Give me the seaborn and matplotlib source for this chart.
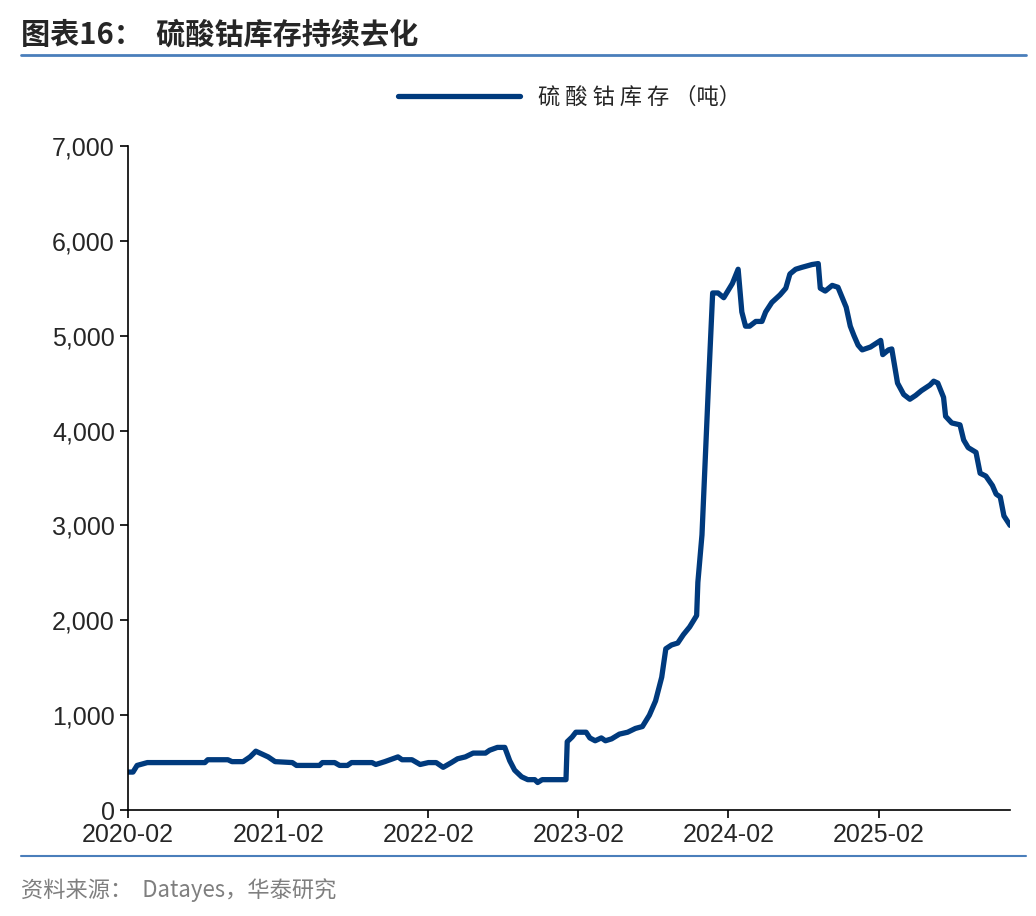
import matplotlib
matplotlib.use("Agg")
import matplotlib.pyplot as plt
import seaborn as sns
import pandas as pd

dates = ["2020-02-01","2020-02-13","2020-02-23","2020-03-19","2020-08-06","2020-08-13","2020-10-01","2020-10-11",
"2020-11-07","2020-11-24","2020-12-08","2020-12-23","2021-01-07","2021-01-24","2021-03-07","2021-03-17","2021-05-12",
"2021-05-19","2021-06-18","2021-06-30","2021-07-19","2021-07-29","2021-09-17","2021-09-26","2021-10-18","2021-11-19",
"2021-11-29","2021-12-23","2022-01-12","2022-02-01","2022-02-20","2022-03-09","2022-03-29","2022-04-13","2022-05-02",
"2022-05-21","2022-06-20","2022-06-30","2022-07-19","2022-08-06","2022-08-18","2022-08-30","2022-09-16","2022-10-01",
"2022-10-18","2022-10-25","2022-11-05","2023-01-02","2023-01-05","2023-01-17","2023-01-26","2023-02-20","2023-03-01",
"2023-03-14","2023-03-29","2023-04-08","2023-04-23","2023-05-12","2023-06-01","2023-06-20","2023-07-07","2023-07-24",
"2023-08-08","2023-08-23","2023-09-02","2023-09-16","2023-10-01","2023-10-15","2023-10-30","2023-11-16","2023-11-19",
"2023-11-29","2023-12-08","2023-12-15","2023-12-25","2024-01-07","2024-01-21","2024-02-11","2024-02-25","2024-03-05",
"2024-03-14","2024-03-24","2024-04-08","2024-04-23","2024-05-02","2024-05-17","2024-06-06","2024-06-20","2024-06-30",
"2024-07-14","2024-07-29","2024-08-23","2024-09-07","2024-09-12","2024-09-24","2024-10-11","2024-10-25","2024-11-14",
"2024-11-24","2024-12-03","2024-12-13","2024-12-23","2025-01-12","2025-02-06","2025-02-11","2025-02-25","2025-03-05",
"2025-03-19","2025-04-03","2025-04-18","2025-05-02","2025-05-16","2025-06-06","2025-06-15","2025-06-25","2025-07-09",
"2025-07-14","2025-07-29","2025-08-18","2025-08-27","2025-09-07","2025-09-26","2025-10-06","2025-10-20","2025-11-05",
"2025-11-14","2025-11-24","2025-12-03","2025-12-18"]
inventory = [400,400,470,500,500,530,530,510,510,560,620,590,560,510,500,470,470,500,500,470,470,500,500,480,510,560,
530,530,480,500,500,450,500,540,560,600,600,630,660,660,520,420,350,320,320,290,320,320,720,770,820,820,760,730,760,
730,750,800,820,860,880,1000,1150,1400,1700,1740,1760,1850,1930,2050,2400,2900,3800,4500,5450,5450,5400,5550,5700,
5250,5100,5100,5150,5150,5250,5350,5430,5500,5650,5700,5720,5750,5760,5500,5470,5530,5510,5300,5100,5000,4900,4850,
4880,4950,4800,4850,4860,4500,4380,4330,4370,4420,4480,4520,4500,4350,4150,4080,4060,3900,3820,3770,3550,3520,3420,
3330,3300,3100,3000]
series_name = "硫酸钴库存（吨）"
tick_dates = ["2020-02-01","2021-02-01","2022-02-01","2023-02-01","2024-02-01","2025-02-01"]
tick_labels = ["2020-02","2021-02","2022-02","2023-02","2024-02","2025-02"]

sns.set_theme(style="white")
plt.rcParams['font.family'] = ['Noto Sans CJK SC', 'DejaVu Sans']

df = pd.DataFrame({"date": pd.to_datetime(dates), "v": inventory})
fig = plt.figure(figsize=(10.36, 9.16), dpi=100)
ax = fig.add_axes([0.1236, 0.1157, 0.8514, 0.725])
sns.lineplot(data=df, x="date", y="v", ax=ax, color="#003A7D", linewidth=3.8, label=series_name)
ax.set_xlim(pd.Timestamp("2020-02-01"), pd.Timestamp("2025-12-18"))
ax.set_ylim(0, 7000)
ax.set_yticks(range(0, 7001, 1000))
ax.set_yticklabels([f"{v:,}" for v in range(0, 7001, 1000)], family="Liberation Sans", fontsize=18)
ax.set_xticks(pd.to_datetime(tick_dates))
ax.set_xticklabels(tick_labels, family="Liberation Sans", fontsize=18)
ax.set_xlabel(""); ax.set_ylabel("")
for s in ["top", "right"]:
    ax.spines[s].set_visible(False)
for s in ["left", "bottom"]:
    ax.spines[s].set_color("black"); ax.spines[s].set_linewidth(1.2)
ax.tick_params(axis="both", direction="out", length=6, width=1.2, color="black", bottom=True, left=True)
leg = ax.legend(loc="upper center", bbox_to_anchor=(0.5, 1.12), frameon=False, fontsize=16,
                handlelength=5.5, prop={"size": 16})
for t in leg.get_texts():
    t.set_text("硫 酸 钴 库 存 （吨）")

fig.text(0.02, 0.962, "图表16：  硫酸钴库存持续去化", fontsize=21, fontweight="bold", va="center")
fig.add_artist(plt.Line2D([0.02, 0.99], [0.940, 0.940], color="#4A7EBB", linewidth=2))
fig.add_artist(plt.Line2D([0.02, 0.99], [0.066, 0.066], color="#4A7EBB", linewidth=1.5))
fig.text(0.02, 0.028, "资料来源：  Datayes，华泰研究", fontsize=16, color="#7F7F7F", va="center")
fig.savefig("out.png", dpi=100)
